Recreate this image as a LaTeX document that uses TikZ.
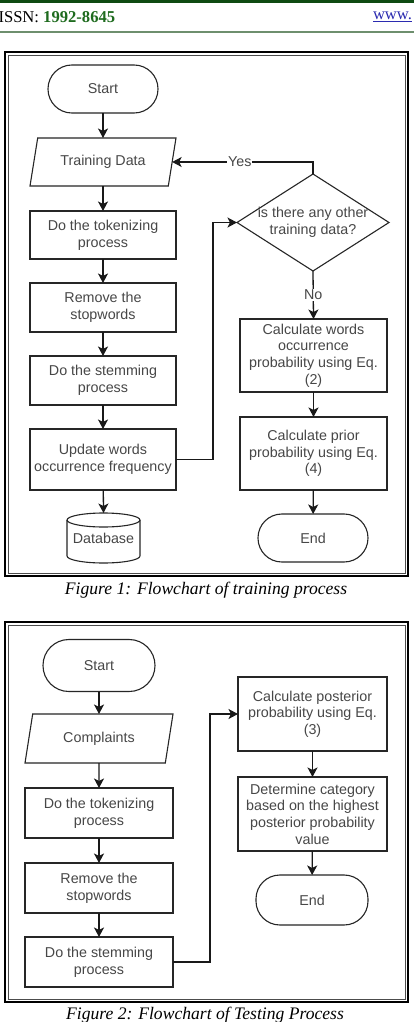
\documentclass[tikz,border=0pt]{standalone}
\usepackage{fontspec}
\setmainfont{Liberation Serif}
\newfontfamily\diafont{Liberation Sans}
\usetikzlibrary{shapes.geometric,arrows.meta}
\definecolor{hdgreen}{HTML}{0E4A12}
\definecolor{numgreen}{HTML}{1E6B1E}
\definecolor{rulegreen}{HTML}{6E8F6E}
\definecolor{linkblue}{HTML}{2B2BB0}
\begin{document}
\begin{tikzpicture}[x=1pt,y=-1pt,
  every node/.style={inner sep=0pt,outer sep=0pt},
  flow/.style={draw=black!85, line width=1.1pt, font=\diafont\fontsize{14.3}{16.7}\selectfont, text=black!72, align=center},
  procbox/.style={flow, rectangle},
  term/.style={flow, rectangle, rounded corners=23.9pt},
  iobox/.style={flow, trapezium, trapezium left angle=60, trapezium right angle=120, trapezium stretches body},
  shapeline/.style={draw=black!85, line width=1.1pt},
  conn/.style={draw=black!90, line width=1.3pt, -{Stealth[length=9.5pt,width=10pt,inset=2.5pt]}},
  lbl/.style={fill=white, font=\diafont\fontsize{14.3}{16.7}\selectfont, text=black!72, inner sep=1pt},
  caption/.style={font=\itshape\fontsize{17.6}{20}\selectfont},
  frameout/.style={draw=black, line width=2pt},
  framein/.style={draw=black!70, line width=0.6pt}
]
\useasboundingbox (0,0) rectangle (414,1022);
\fill[white] (0,0) rectangle (414,1022);

% header
\fill[hdgreen] (0,0) rectangle (414,2.6);
\draw[rulegreen, line width=1.3pt] (0,32) -- (414,32);
\node[anchor=west, font=\fontsize{16.6}{18}\selectfont] (issn) at (-1.5,17) {ISSN: \textcolor{numgreen}{\bfseries 1992-8645}};
\node[anchor=west, font=\fontsize{16.6}{18}\selectfont, text=linkblue] (www) at (373,17) {\underline{www.}};

% frames
\draw[frameout] (5,52) rectangle (408,576);
\draw[framein] (8,55) rectangle (405,573);
\draw[frameout] (5,622) rectangle (408,1002);
\draw[framein] (8,625) rectangle (405,999);

% ---------- Figure 1 ----------
\node[term, minimum width=110pt, minimum height=48pt] (start1) at (103,89) {Start};
\node[iobox, minimum width=146pt, minimum height=48pt] (td1) at (103,162) {Training Data};
\node[procbox, minimum width=146pt, minimum height=48pt] (tok1) at (103,235) {Do the tokenizing\\process};
\node[procbox, minimum width=146pt, minimum height=49pt] (rem1) at (103,307.5) {Remove the\\stopwords};
\node[procbox, minimum width=146pt, minimum height=49pt] (stem1) at (103,380.5) {Do the stemming\\process};
\node[procbox, minimum width=146pt, minimum height=61pt] (upd1) at (103,459.5) {Update words\\occurrence frequency};
\node[flow, draw=none, minimum width=73pt, minimum height=50pt] (db1) at (103.5,538) {\raisebox{-3pt}{Database}};
\draw[shapeline] (103.5,520) ellipse [x radius=36.5pt, y radius=7pt];
\draw[shapeline] (67,520) -- (67,556) arc[start angle=180, end angle=360, x radius=36.5pt, y radius=7pt] -- (140,520);

\node[flow, diamond, minimum width=152pt, minimum height=97pt,
      label={[flow, draw=none]center:{is there any other\\training data?}}] (dia) at (313,222.5) {};
\node[procbox, minimum width=147pt, minimum height=73pt] (calcw) at (313.5,355.5) {Calculate words\\occurrence\\probability using Eq.\\(2)};
\node[procbox, minimum width=147pt, minimum height=73pt] (calcp) at (313.5,453.5) {Calculate prior\\probability using Eq.\\(4)};
\node[term, minimum width=110pt, minimum height=48pt] (end1) at (313,538) {End};

\draw[conn] (start1) -- (td1);
\draw[conn] (td1) -- (tok1);
\draw[conn] (tok1) -- (rem1);
\draw[conn] (rem1) -- (stem1);
\draw[conn] (stem1) -- (upd1);
\draw[conn] (upd1) -- (db1.north);
\draw[conn] (upd1.east) -- ++(37,0) |- (dia.west);
\draw[conn] (dia.north) |- node[lbl, pos=0.76] {Yes} (td1.east);
\draw[conn] (dia.south) -- node[lbl] {No} (calcw.north);
\draw[conn] (calcw) -- (calcp);
\draw[conn] (calcp) -- (end1);

\node[caption] (cap1) at (206,590) {Figure 1: Flowchart of training process};

% ---------- Figure 2 ----------
\node[term, minimum width=112pt, minimum height=52pt, rounded corners=25.9pt] (start2) at (99,665.5) {Start};
\node[iobox, minimum width=148pt, minimum height=49pt] (comp) at (99,738.5) {Complaints};
\node[procbox, minimum width=148pt, minimum height=50pt] (tok2) at (99,813) {Do the tokenizing\\process};
\node[procbox, minimum width=148pt, minimum height=50pt] (rem2) at (99,888) {Remove the\\stopwords};
\node[procbox, minimum width=148pt, minimum height=50pt] (stem2) at (99,962) {Do the stemming\\process};
\node[procbox, minimum width=149pt, minimum height=74pt] (post) at (312.5,714) {Calculate posterior\\probability using Eq.\\(3)};
\node[procbox, minimum width=149pt, minimum height=74pt] (det) at (312.5,814) {Determine category\\based on the highest\\posterior probability\\value};
\node[term, minimum width=112pt, minimum height=50pt] (end2) at (312,900) {End};

\draw[conn] (start2) -- (comp);
\draw[conn] (comp) -- (tok2);
\draw[conn] (tok2) -- (rem2);
\draw[conn] (rem2) -- (stem2);
\draw[conn] (stem2.east) -- ++(37,0) |- (post.west);
\draw[conn] (post) -- (det);
\draw[conn] (det) -- (end2);

\node[caption] (cap2) at (205,1015) {Figure 2: Flowchart of Testing Process};
\end{tikzpicture}
\end{document}
